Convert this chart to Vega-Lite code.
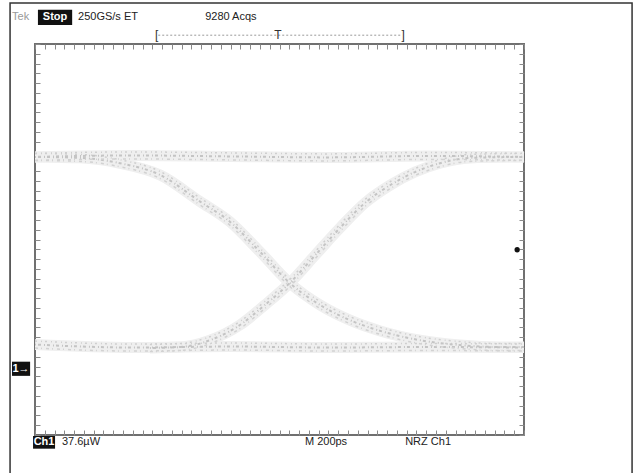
{
  "$schema": "https://vega.github.io/schema/vega-lite/v6.json",
  "width": 489,
  "height": 391,
  "autosize": {"type": "none"},
  "padding": {"left": 35, "top": 44, "right": 109, "bottom": 38},
  "background": "white",
  "config": {
    "view": {"stroke": "#707070", "strokeWidth": 2},
    "font": "Liberation Sans",
    "axis": {"domain": false, "labels": false, "grid": false, "title": null, "tickColor": "#8a8a8a", "tickWidth": 1, "tickSize": -5}
  },
  "datasets": {
    "traces": [
      {"trace": "upper", "t": 0, "v": 1.69}, {"trace": "upper", "t": 2, "v": 1.72}, {"trace": "upper", "t": 4, "v": 1.70}, {"trace": "upper", "t": 6, "v": 1.68}, {"trace": "upper", "t": 8, "v": 1.71}, {"trace": "upper", "t": 10, "v": 1.69},
      {"trace": "lower", "t": 0, "v": -2.15}, {"trace": "lower", "t": 2, "v": -2.21}, {"trace": "lower", "t": 4, "v": -2.19}, {"trace": "lower", "t": 6, "v": -2.21}, {"trace": "lower", "t": 8, "v": -2.20}, {"trace": "lower", "t": 10, "v": -2.21},
      {"trace": "falling", "t": 0, "v": 1.69}, {"trace": "falling", "t": 0.92, "v": 1.67}, {"trace": "falling", "t": 1.74, "v": 1.56}, {"trace": "falling", "t": 2.56, "v": 1.32}, {"trace": "falling", "t": 3.37, "v": 0.78}, {"trace": "falling", "t": 3.99, "v": 0.36}, {"trace": "falling", "t": 4.60, "v": -0.25}, {"trace": "falling", "t": 5.21, "v": -0.89}, {"trace": "falling", "t": 5.83, "v": -1.34}, {"trace": "falling", "t": 6.44, "v": -1.65}, {"trace": "falling", "t": 7.06, "v": -1.87}, {"trace": "falling", "t": 7.87, "v": -2.06}, {"trace": "falling", "t": 8.69, "v": -2.16}, {"trace": "falling", "t": 9.51, "v": -2.20}, {"trace": "falling", "t": 10, "v": -2.20},
      {"trace": "rising", "t": 2.35, "v": -2.22}, {"trace": "rising", "t": 2.97, "v": -2.20}, {"trace": "rising", "t": 3.58, "v": -2.06}, {"trace": "rising", "t": 4.19, "v": -1.75}, {"trace": "rising", "t": 4.70, "v": -1.34}, {"trace": "rising", "t": 5.21, "v": -0.89}, {"trace": "rising", "t": 5.73, "v": -0.32}, {"trace": "rising", "t": 6.24, "v": 0.24}, {"trace": "rising", "t": 6.75, "v": 0.75}, {"trace": "rising", "t": 7.26, "v": 1.11}, {"trace": "rising", "t": 7.77, "v": 1.38}, {"trace": "rising", "t": 8.28, "v": 1.56}, {"trace": "rising", "t": 8.90, "v": 1.67}, {"trace": "rising", "t": 10, "v": 1.69}
    ],
    "frame": [{"x": -0.51, "x2": 12.21, "y": 4.84, "y2": -4.92}],
    "boxes": [
      {"x": 0.06, "x2": 0.76, "y": 4.70, "y2": 4.39},
      {"x": -0.04, "x2": 0.41, "y": -4.02, "y2": -4.28},
      {"x": -0.47, "x2": -0.10, "y": -2.50, "y2": -2.79}
    ],
    "boxText": [
      {"label": "Stop", "x": 0.41, "y": 4.55},
      {"label": "Ch1", "x": 0.185, "y": -4.15},
      {"label": "1→", "x": -0.285, "y": -2.645}
    ],
    "labels": [
      {"label": "250GS/s ET", "x": 0.88, "y": 4.55},
      {"label": "9280 Acqs", "x": 3.48, "y": 4.55},
      {"label": "37.6µW", "x": 0.55, "y": -4.15},
      {"label": "M  200ps", "x": 5.52, "y": -4.15},
      {"label": "NRZ  Ch1", "x": 7.57, "y": -4.15}
    ],
    "tek": [{"label": "Tek", "x": -0.47, "y": 4.55}],
    "bracket": [{"x": 2.52, "x2": 7.50, "y": 4.18}],
    "bracketGlyphs": [
      {"label": "[", "x": 2.49, "y": 4.18},
      {"label": "T", "x": 4.97, "y": 4.18},
      {"label": "]", "x": 7.53, "y": 4.18}
    ],
    "trigger": [{"x": 9.86, "y": -0.21}]
  },
  "layer": [
    {
      "data": {"name": "frame"},
      "mark": {"type": "rect", "fill": null, "stroke": "#333333", "strokeWidth": 1.5, "clip": false},
      "encoding": {
        "x": {"field": "x", "type": "quantitative", "scale": {"domain": [0, 10], "nice": false, "zero": false}, "axis": null},
        "x2": {"field": "x2"},
        "y": {"field": "y", "type": "quantitative", "scale": {"domain": [-4, 4], "nice": false, "zero": false}, "axis": null},
        "y2": {"field": "y2"}
      }
    },
    {
      "data": {"name": "traces"},
      "mark": {"type": "line", "interpolate": "monotone", "stroke": "#efefef", "strokeWidth": 11, "clip": true},
      "encoding": {
        "x": {"field": "t", "type": "quantitative", "scale": {"domain": [0, 10], "nice": false, "zero": false}, "axis": {"orient": "bottom", "tickCount": 50}},
        "y": {"field": "v", "type": "quantitative", "scale": {"domain": [-4, 4], "nice": false, "zero": false}, "axis": {"orient": "left", "tickCount": 40}},
        "detail": {"field": "trace"}
      }
    },
    {
      "data": {"name": "traces"},
      "mark": {"type": "line", "interpolate": "monotone", "stroke": "#cfcfcf", "strokeWidth": 1.5, "strokeDash": [2, 4, 1, 3], "yOffset": -3.5, "clip": true},
      "encoding": {
        "x": {"field": "t", "type": "quantitative", "scale": {"domain": [0, 10], "nice": false, "zero": false}, "axis": null},
        "y": {"field": "v", "type": "quantitative", "scale": {"domain": [-4, 4], "nice": false, "zero": false}, "axis": null},
        "detail": {"field": "trace"}
      }
    },
    {
      "data": {"name": "traces"},
      "mark": {"type": "line", "interpolate": "monotone", "stroke": "#c4c4c4", "strokeWidth": 2, "strokeDash": [1, 2, 3, 3], "clip": true},
      "encoding": {
        "x": {"field": "t", "type": "quantitative", "scale": {"domain": [0, 10], "nice": false, "zero": false}, "axis": null},
        "y": {"field": "v", "type": "quantitative", "scale": {"domain": [-4, 4], "nice": false, "zero": false}, "axis": null},
        "detail": {"field": "trace"}
      }
    },
    {
      "data": {"name": "traces"},
      "mark": {"type": "line", "interpolate": "monotone", "stroke": "#d2d2d2", "strokeWidth": 1.5, "strokeDash": [3, 3, 1, 4], "yOffset": 3.5, "clip": true},
      "encoding": {
        "x": {"field": "t", "type": "quantitative", "scale": {"domain": [0, 10], "nice": false, "zero": false}, "axis": null},
        "y": {"field": "v", "type": "quantitative", "scale": {"domain": [-4, 4], "nice": false, "zero": false}, "axis": null},
        "detail": {"field": "trace"}
      }
    },
    {
      "data": {"name": "trigger"},
      "mark": {"type": "point", "shape": "circle", "filled": true, "color": "#111111", "size": 28, "opacity": 1},
      "encoding": {
        "x": {"field": "x", "type": "quantitative", "scale": {"domain": [0, 10], "nice": false, "zero": false}, "axis": {"orient": "top", "tickCount": 50}},
        "y": {"field": "y", "type": "quantitative", "scale": {"domain": [-4, 4], "nice": false, "zero": false}, "axis": {"orient": "right", "tickCount": 40}}
      }
    },
    {
      "data": {"name": "boxes"},
      "mark": {"type": "rect", "fill": "#111111", "clip": false},
      "encoding": {
        "x": {"field": "x", "type": "quantitative", "scale": {"domain": [0, 10], "nice": false, "zero": false}, "axis": null},
        "x2": {"field": "x2"},
        "y": {"field": "y", "type": "quantitative", "scale": {"domain": [-4, 4], "nice": false, "zero": false}, "axis": null},
        "y2": {"field": "y2"}
      }
    },
    {
      "data": {"name": "boxText"},
      "mark": {"type": "text", "color": "white", "fontSize": 11, "fontWeight": "bold", "align": "center", "baseline": "middle", "clip": false},
      "encoding": {
        "x": {"field": "x", "type": "quantitative", "scale": {"domain": [0, 10], "nice": false, "zero": false}, "axis": null},
        "y": {"field": "y", "type": "quantitative", "scale": {"domain": [-4, 4], "nice": false, "zero": false}, "axis": null},
        "text": {"field": "label"}
      }
    },
    {
      "data": {"name": "labels"},
      "mark": {"type": "text", "color": "#222222", "fontSize": 11, "align": "left", "baseline": "middle", "clip": false},
      "encoding": {
        "x": {"field": "x", "type": "quantitative", "scale": {"domain": [0, 10], "nice": false, "zero": false}, "axis": null},
        "y": {"field": "y", "type": "quantitative", "scale": {"domain": [-4, 4], "nice": false, "zero": false}, "axis": null},
        "text": {"field": "label"}
      }
    },
    {
      "data": {"name": "tek"},
      "mark": {"type": "text", "color": "#9a9a9a", "fontSize": 11, "align": "left", "baseline": "middle", "clip": false},
      "encoding": {
        "x": {"field": "x", "type": "quantitative", "scale": {"domain": [0, 10], "nice": false, "zero": false}, "axis": null},
        "y": {"field": "y", "type": "quantitative", "scale": {"domain": [-4, 4], "nice": false, "zero": false}, "axis": null},
        "text": {"field": "label"}
      }
    },
    {
      "data": {"name": "bracket"},
      "mark": {"type": "rule", "stroke": "#9a9a9a", "strokeWidth": 1, "strokeDash": [2, 2], "clip": false},
      "encoding": {
        "x": {"field": "x", "type": "quantitative", "scale": {"domain": [0, 10], "nice": false, "zero": false}, "axis": null},
        "x2": {"field": "x2"},
        "y": {"field": "y", "type": "quantitative", "scale": {"domain": [-4, 4], "nice": false, "zero": false}, "axis": null}
      }
    },
    {
      "data": {"name": "bracketGlyphs"},
      "mark": {"type": "text", "color": "#333333", "fontSize": 12, "align": "center", "baseline": "middle", "clip": false},
      "encoding": {
        "x": {"field": "x", "type": "quantitative", "scale": {"domain": [0, 10], "nice": false, "zero": false}, "axis": null},
        "y": {"field": "y", "type": "quantitative", "scale": {"domain": [-4, 4], "nice": false, "zero": false}, "axis": null},
        "text": {"field": "label"}
      }
    }
  ],
  "resolve": {"axis": {"x": "independent", "y": "independent"}}
}
